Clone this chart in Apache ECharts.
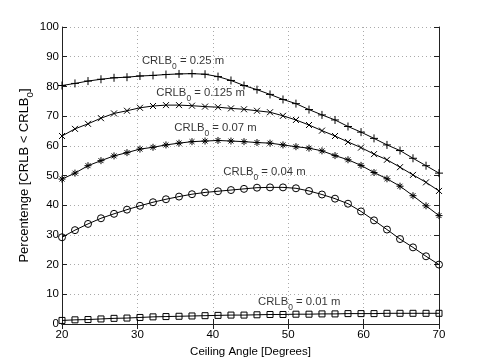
<!DOCTYPE html>
<html>
<head>
<meta charset="utf-8">
<script src="https://cdn.jsdelivr.net/npm/echarts@6/dist/echarts.min.js"></script>
<style>
  html, body { margin: 0; padding: 0; background: #fff; }
  #chart { width: 485px; height: 364px; }
</style>
</head>
<body>
<div id="chart"></div>
<script>
// ceiling angle samples [deg]
const angles = [20.00, 21.72, 23.45, 25.17, 26.90, 28.62, 30.34, 32.07, 33.79, 35.52,
  37.24, 38.97, 40.69, 42.41, 44.14, 45.86, 47.59, 49.31, 51.03, 52.76,
  54.48, 56.21, 57.93, 59.66, 61.38, 63.10, 64.83, 66.55, 68.28, 70.00];

// percentage [CRLB < CRLB0] for each threshold
const crlb025 = [80.3, 81.0, 81.8, 82.4, 82.9, 83.1, 83.5, 83.7, 84.0, 84.2,
  84.3, 84.1, 83.3, 82.0, 80.3, 78.9, 77.3, 75.6, 74.2, 72.2,
  70.4, 68.7, 66.5, 64.6, 62.5, 60.3, 58.4, 55.8, 53.3, 50.8];
const crlb0125 = [63.3, 65.7, 67.4, 69.3, 70.9, 71.8, 72.8, 73.4, 73.7, 73.7,
  73.5, 73.2, 73.0, 72.6, 72.3, 71.8, 71.3, 70.1, 68.7, 67.0,
  65.1, 63.3, 61.3, 59.4, 57.2, 55.3, 52.8, 50.2, 47.7, 44.8];
const crlb007 = [48.8, 50.8, 53.3, 55.0, 56.6, 57.7, 58.9, 59.5, 60.3, 60.9,
  61.4, 61.6, 61.8, 61.6, 61.4, 61.1, 60.9, 60.3, 59.7, 59.2,
  58.3, 56.7, 55.3, 53.4, 51.0, 48.9, 46.4, 43.2, 39.8, 36.5];
const crlb004 = [29.2, 31.6, 33.7, 35.6, 37.1, 38.5, 39.8, 41.0, 42.0, 42.9,
  43.7, 44.3, 44.7, 45.1, 45.5, 45.9, 46.0, 46.0, 45.7, 44.8,
  43.6, 42.2, 40.5, 37.9, 34.9, 31.8, 28.6, 25.8, 22.8, 20.0];
const crlb001 = [1.2, 1.4, 1.5, 1.7, 1.9, 2.0, 2.2, 2.4, 2.5, 2.6,
  2.7, 2.8, 2.9, 3.0, 3.0, 3.1, 3.2, 3.2, 3.3, 3.3,
  3.4, 3.4, 3.5, 3.5, 3.5, 3.6, 3.6, 3.6, 3.6, 3.6];

// curve labels: threshold text and anchor (left edge) in data coords
const labelText = ['0.25 m', '0.125 m', '0.07 m', '0.04 m', '0.01 m'];
const labelX = [30.6, 32.5, 34.9, 41.4, 46.0];
const labelY = [88.5, 77.8, 66.0, 51.2, 7.4];

const xTicks = { min: 20, max: 70, interval: 10 };
const yTicks = { min: 0, max: 100, interval: 10 };

const FONT = 'Liberation Sans, Arial, Helvetica, sans-serif';

// marker paths (stroked, like matlab markers)
const MARK_PLUS = 'path://M5,0L5,10M0,5L10,5';
const MARK_CROSS = 'path://M0,0L10,10M10,0L0,10';
const MARK_STAR = 'path://M5,0L5,10M0,5L10,5M1.5,1.5L8.5,8.5M8.5,1.5L1.5,8.5';

const chart = echarts.init(document.getElementById('chart'));

function curve(name, values, symbol, size) {
  return {
    name,
    type: 'line',
    data: angles.map((a, i) => [a, values[i]]),
    symbol,
    symbolSize: size,
    showAllSymbol: true,
    animation: false,
    lineStyle: { color: '#000', width: 1 },
    itemStyle: { color: 'rgba(0,0,0,0)', borderColor: '#000', borderWidth: 1 },
    emphasis: { disabled: true },
    z: 3,
  };
}

// text with subscript "0" (top padding pushes the digit down)
function richStyle(size) {
  return {
    a: { fontSize: size, fontFamily: FONT, color: '#000', lineHeight: size + 2 },
    s: { fontSize: size * 0.75, fontFamily: FONT, color: '#000', lineHeight: 6, padding: [11, 0, 0, 0] },
  };
}

const option = {
  backgroundColor: '#fff',
  animation: false,
  grid: { left: 62, right: 46, top: 27, bottom: 40 },
  xAxis: [
    {
      type: 'value',
      ...xTicks,
      name: 'Ceiling Angle [Degrees]',
      nameLocation: 'middle',
      nameGap: 14,
      nameTextStyle: { fontSize: 11.5, fontFamily: FONT, color: '#000' },
      axisLine: { lineStyle: { color: '#222', width: 1 } },
      axisTick: { inside: true, length: 5, lineStyle: { color: '#222' } },
      axisLabel: { margin: 5, fontSize: 11.5, fontFamily: FONT, color: '#000' },
      splitLine: { show: true, lineStyle: { color: '#aaa', type: [1, 3], width: 1 } },
    },
    {
      type: 'value',
      position: 'top',
      ...xTicks,
      axisLine: { show: true, lineStyle: { color: '#222', width: 1 } },
      axisTick: { inside: true, length: 5, lineStyle: { color: '#222' } },
      axisLabel: { show: false },
      splitLine: { show: false },
    },
  ],
  yAxis: [
    {
      type: 'value',
      ...yTicks,
      name: '{a|Percentenge [CRLB < CRLB}{s|0}{a|]}',
      nameLocation: 'middle',
      nameGap: 30,
      nameMoveOverlap: false,
      nameTextStyle: { rich: richStyle(13) },
      axisLine: { show: true, lineStyle: { color: '#222', width: 1 } },
      axisTick: { show: true, inside: true, length: 5, lineStyle: { color: '#222' } },
      axisLabel: { margin: 3, fontSize: 11.5, fontFamily: FONT, color: '#000' },
      splitLine: { show: true, lineStyle: { color: '#aaa', type: [1, 3], width: 1 } },
    },
    {
      type: 'value',
      position: 'right',
      ...yTicks,
      axisLine: { show: true, lineStyle: { color: '#222', width: 1 } },
      axisTick: { show: true, inside: true, length: 5, lineStyle: { color: '#222' } },
      axisLabel: { show: false },
      splitLine: { show: false },
    },
  ],
  series: [
    curve('0.25 m', crlb025, MARK_PLUS, 8),
    curve('0.125 m', crlb0125, MARK_CROSS, 6),
    curve('0.07 m', crlb007, MARK_STAR, 7),
    curve('0.04 m', crlb004, 'circle', 7),
    curve('0.01 m', crlb001, 'rect', 6),
    {
      // curve annotations
      type: 'scatter',
      symbolSize: 0,
      silent: true,
      data: labelText.map((t, i) => ({ value: [labelX[i], labelY[i]], name: t })),
      label: {
        show: true,
        position: 'right',
        distance: 0,
        formatter: (p) => '{a|CRLB}{s|0}{a| = ' + p.name + '}',
        rich: richStyle(11.3),
      },
      z: 5,
    },
  ],
};

chart.setOption(option);
</script>
</body>
</html>
